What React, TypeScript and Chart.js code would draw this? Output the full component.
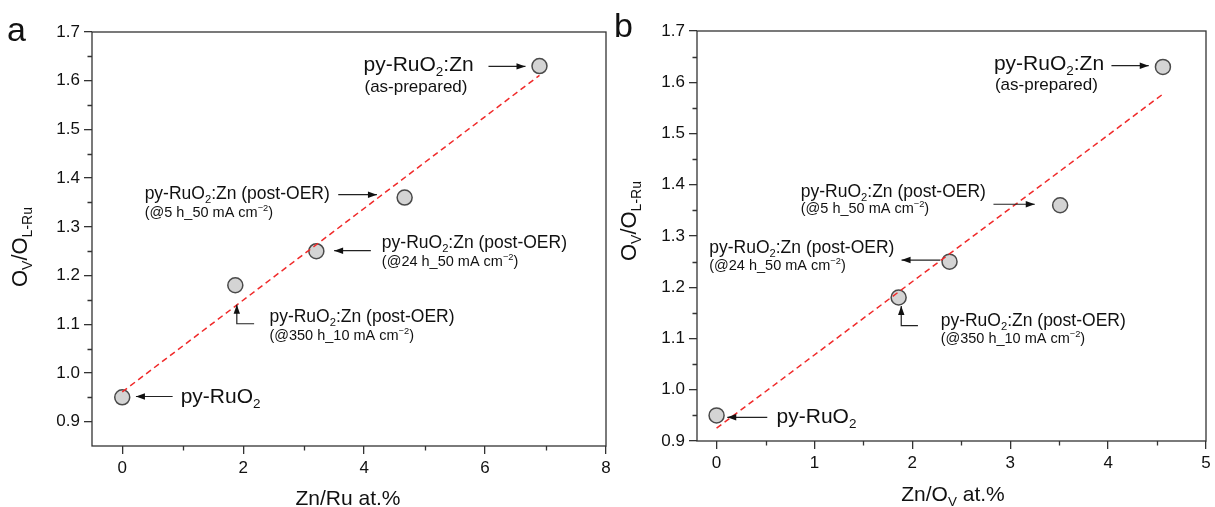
import React, { useEffect, useRef } from 'react';
import { Chart, registerables } from 'chart.js';

Chart.register(...registerables);

// ---------- DATA ----------
// Panel a : Zn/Ru at.%
const xA = [0, 1.87, 3.21, 4.67, 6.9];
const yA = [0.95, 1.18, 1.25, 1.36, 1.63];
const fitXA = [0, 6.9];
const fitYA = [0.961, 1.611];
const xTicksA = [0, 2, 4, 6, 8];
const xMinorA = [1, 3, 5, 7];

// Panel b : Zn/O_V at.%
const xB = [0, 1.86, 2.38, 3.51, 4.56];
const yB = [0.95, 1.18, 1.25, 1.36, 1.63];
const fitXB = [0, 4.56];
const fitYB = [0.925, 1.577];
const xTicksB = [0, 1, 2, 3, 4, 5];
const xMinorB = [0.5, 1.5, 2.5, 3.5, 4.5];

const yTicksAll = [0.9, 1.0, 1.1, 1.2, 1.3, 1.4, 1.5, 1.6, 1.7];
const yMinorAll = [0.95, 1.05, 1.15, 1.25, 1.35, 1.45, 1.55, 1.65];

// ---------- TEXT ----------
type Seg = { t: string; s?: 'sub' | 'sup' };
const FONT = '"Liberation Sans", Arial, Helvetica, sans-serif';
const TXT = '#111';

const sampleBig: Seg[] = [{ t: 'py-RuO' }, { t: '2', s: 'sub' }, { t: ':Zn' }];
const sampleBare: Seg[] = [{ t: 'py-RuO' }, { t: '2', s: 'sub' }];
const postOER: Seg[] = [{ t: 'py-RuO' }, { t: '2', s: 'sub' }, { t: ':Zn (post-OER)' }];
const asPrep: Seg[] = [{ t: '(as-prepared)' }];
const cond = (c: string): Seg[] => [{ t: `(@${c} mA cm` }, { t: '\u22122', s: 'sup' }, { t: ')' }];
const yTitleSegs: Seg[] = [{ t: 'O' }, { t: 'V', s: 'sub' }, { t: '/O' }, { t: 'L-Ru', s: 'sub' }];
const xTitleA: Seg[] = [{ t: 'Zn/Ru at.%' }];
const xTitleB: Seg[] = [{ t: 'Zn/O' }, { t: 'V', s: 'sub' }, { t: ' at.%' }];

// ---------- helpers ----------
function segFont(size: number, s?: string) {
  return `${s ? size * 0.64 : size}px ${FONT}`;
}
function richWidth(ctx: CanvasRenderingContext2D, segs: Seg[], size: number) {
  let w = 0;
  for (const sg of segs) {
    ctx.font = segFont(size, sg.s);
    w += ctx.measureText(sg.t).width;
  }
  return w;
}
function drawRich(ctx: CanvasRenderingContext2D, x: number, y: number, segs: Seg[], size: number) {
  ctx.textBaseline = 'alphabetic';
  ctx.textAlign = 'left';
  for (const sg of segs) {
    ctx.font = segFont(size, sg.s);
    const dy = sg.s === 'sub' ? size * 0.22 : sg.s === 'sup' ? -size * 0.42 : 0;
    ctx.fillText(sg.t, x, y + dy);
    x += ctx.measureText(sg.t).width;
  }
}
function drawArrow(ctx: CanvasRenderingContext2D, pts: number[][]) {
  ctx.beginPath();
  ctx.moveTo(pts[0][0], pts[0][1]);
  for (let i = 1; i < pts.length; i++) ctx.lineTo(pts[i][0], pts[i][1]);
  ctx.stroke();
  const [hx, hy] = pts[pts.length - 1];
  const [px, py] = pts[pts.length - 2];
  const ang = Math.atan2(hy - py, hx - px);
  const L = 9, W = 3.2;
  ctx.beginPath();
  ctx.moveTo(hx, hy);
  ctx.lineTo(hx - L * Math.cos(ang) + W * Math.sin(ang), hy - L * Math.sin(ang) - W * Math.cos(ang));
  ctx.lineTo(hx - L * Math.cos(ang) - W * Math.sin(ang), hy - L * Math.sin(ang) + W * Math.cos(ang));
  ctx.closePath();
  ctx.fill();
}

type Note = { i: number; lines: { segs: Seg[]; size: number; dx: number; dy: number }[]; arrow: number[][] };

const notesA: Note[] = [
  { i: 4, lines: [{ segs: sampleBig, size: 21, dx: -176, dy: 5.3 }, { segs: asPrep, size: 17, dx: -175, dy: 26.3 }], arrow: [[-51, 0.3], [-14, 0.3]] },
  { i: 3, lines: [{ segs: postOER, size: 17.5, dx: -260, dy: 1.4 }, { segs: cond('5 h_50'), size: 14.5, dx: -260, dy: 19.1 }], arrow: [[-66.4, -2.9], [-27.7, -2.9]] },
  { i: 2, lines: [{ segs: postOER, size: 17.5, dx: 65.5, dy: -3.2 }, { segs: cond('24 h_50'), size: 14.5, dx: 65.5, dy: 15.2 }], arrow: [[54.5, -0.5], [17.8, -0.5]] },
  { i: 1, lines: [{ segs: postOER, size: 17.5, dx: 34.1, dy: 37.2 }, { segs: cond('350 h_10'), size: 14.5, dx: 34.1, dy: 55.2 }], arrow: [[18.8, 38.5], [1.5, 38.5], [1.5, 19.5]] },
  { i: 0, lines: [{ segs: sampleBare, size: 21, dx: 58.4, dy: 5.8 }], arrow: [[50.4, -0.8], [13.7, -0.8]] },
];
const notesB: Note[] = [
  { i: 4, lines: [{ segs: sampleBig, size: 21, dx: -169, dy: 3.1 }, { segs: asPrep, size: 17, dx: -168, dy: 23 }], arrow: [[-51.5, -1.2], [-14.2, -1.2]] },
  { i: 3, lines: [{ segs: postOER, size: 17.5, dx: -259.4, dy: -8.6 }, { segs: cond('5 h_50'), size: 14.5, dx: -259.4, dy: 8 }], arrow: [[-66.7, -1], [-25.4, -1]] },
  { i: 2, lines: [{ segs: postOER, size: 17.5, dx: -240.3, dy: -8.3 }, { segs: cond('24 h_50'), size: 14.5, dx: -240.3, dy: 8.4 }], arrow: [[-9.3, -1.6], [-48, -1.6]] },
  { i: 1, lines: [{ segs: postOER, size: 17.5, dx: 42, dy: 28.5 }, { segs: cond('350 h_10'), size: 14.5, dx: 42, dy: 45.8 }], arrow: [[19.3, 28.2], [2.6, 28.2], [2.6, 8.5]] },
  { i: 0, lines: [{ segs: sampleBare, size: 21, dx: 60, dy: 7.9 }], arrow: [[50.7, 1.9], [10.7, 1.9]] },
];

type Panel = {
  xs: number[]; ys: number[]; fx: number[]; fy: number[];
  xTicks: number[]; xMinor: number[];
  xMin: number; xMax: number; yMin: number; yMax: number;
  pad: { top: number; right: number }; yWidth: number; xHeight: number;
  letter: { t: string; x: number; y: number };
  yTitle: { cx: number; cy: number };
  xTitle: { segs: Seg[]; cx: number; y: number };
  notes: Note[];
};

const panelA: Panel = {
  xs: xA, ys: yA, fx: fitXA, fy: fitYA, xTicks: xTicksA, xMinor: xMinorA,
  xMin: -0.5, xMax: 8, yMin: 0.85, yMax: 1.7,
  pad: { top: 32, right: 609 }, yWidth: 92, xHeight: 61,
  letter: { t: 'a', x: 7, y: 41 },
  yTitle: { cx: 19, cy: 247 },
  xTitle: { segs: xTitleA, cx: 348, y: 505 },
  notes: notesA,
};
const panelB: Panel = {
  xs: xB, ys: yB, fx: fitXB, fy: fitYB, xTicks: xTicksB, xMinor: xMinorB,
  xMin: -0.2, xMax: 5, yMin: 0.9, yMax: 1.7,
  pad: { top: 31, right: 5 }, yWidth: 697, xHeight: 66,
  letter: { t: 'b', x: 614, y: 37 },
  yTitle: { cx: 628, cy: 221 },
  xTitle: { segs: xTitleB, cx: 953, y: 501 },
  notes: notesB,
};

function makeConfig(p: Panel): any {
  const decor = {
    id: 'decor',
    afterDraw(chart: any) {
      const ctx: CanvasRenderingContext2D = chart.ctx;
      const ca = chart.chartArea;
      const xs = chart.scales.x, ys = chart.scales.y;
      ctx.save();
      // frame
      ctx.strokeStyle = '#333';
      ctx.lineWidth = 1.3;
      ctx.strokeRect(ca.left, ca.top, ca.right - ca.left, ca.bottom - ca.top);
      // minor ticks
      ctx.beginPath();
      for (const v of p.xMinor) {
        const px = Math.round(xs.getPixelForValue(v)) + 0.5;
        ctx.moveTo(px, ca.bottom); ctx.lineTo(px, ca.bottom + 4.5);
      }
      for (const v of yMinorAll) {
        if (v < p.yMin || v > p.yMax) continue;
        const py = Math.round(ys.getPixelForValue(v)) + 0.5;
        ctx.moveTo(ca.left - 4.5, py); ctx.lineTo(ca.left, py);
      }
      ctx.stroke();
      // annotations
      ctx.fillStyle = TXT;
      ctx.strokeStyle = '#222';
      ctx.lineWidth = 1.2;
      for (const n of p.notes) {
        const bx = xs.getPixelForValue(p.xs[n.i]);
        const by = ys.getPixelForValue(p.ys[n.i]);
        for (const l of n.lines) drawRich(ctx, bx + l.dx, by + l.dy, l.segs, l.size);
        drawArrow(ctx, n.arrow.map(([dx, dy]) => [bx + dx, by + dy]));
      }
      // x title
      const xsize = 21;
      const w = richWidth(ctx, p.xTitle.segs, xsize);
      drawRich(ctx, p.xTitle.cx - w / 2, p.xTitle.y, p.xTitle.segs, xsize);
      // y title (rotated)
      const ysize = 22;
      ctx.save();
      ctx.translate(p.yTitle.cx, p.yTitle.cy);
      ctx.rotate(-Math.PI / 2);
      const wy = richWidth(ctx, yTitleSegs, ysize);
      drawRich(ctx, -wy / 2, ysize * 0.36, yTitleSegs, ysize);
      ctx.restore();
      // panel letter
      ctx.font = `34px ${FONT}`;
      ctx.textAlign = 'left';
      ctx.textBaseline = 'alphabetic';
      ctx.fillStyle = '#111';
      ctx.fillText(p.letter.t, p.letter.x, p.letter.y);
      ctx.restore();
    },
  };

  return {
    type: 'scatter',
    data: {
      datasets: [
        {
          type: 'line',
          data: p.fx.map((x, i) => ({ x, y: p.fy[i] })),
          borderColor: '#f02a2a',
          borderWidth: 1.5,
          borderDash: [6, 4],
          pointRadius: 0,
          fill: false,
          order: 0,
        },
        {
          type: 'scatter',
          data: p.xs.map((x, i) => ({ x, y: p.ys[i] })),
          pointRadius: 7.5,
          pointBackgroundColor: '#d4d4d4',
          pointBorderColor: '#4a4a4a',
          pointBorderWidth: 1.5,
          order: 1,
        },
      ],
    },
    options: {
      responsive: false,
      animation: false,
      devicePixelRatio: 1,
      events: [],
      layout: { padding: { left: 0, top: p.pad.top, right: p.pad.right, bottom: 0 } },
      plugins: { legend: { display: false }, tooltip: { enabled: false }, title: { display: false } },
      scales: {
        x: {
          type: 'linear',
          min: p.xMin,
          max: p.xMax,
          afterBuildTicks: (s: any) => { s.ticks = p.xTicks.map((v) => ({ value: v })); },
          afterFit: (s: any) => { s.height = p.xHeight; },
          grid: { drawOnChartArea: false, drawTicks: true, tickLength: 8, color: '#333', lineWidth: 1.3 },
          border: { display: false },
          ticks: { font: { size: 17, family: FONT }, color: TXT, padding: 4, maxRotation: 0, autoSkip: false, callback: (v: any) => String(v) },
        },
        y: {
          type: 'linear',
          min: p.yMin,
          max: p.yMax,
          afterBuildTicks: (s: any) => { s.ticks = yTicksAll.map((v) => ({ value: v })); },
          afterFit: (s: any) => { s.width = p.yWidth; },
          grid: { drawOnChartArea: false, drawTicks: true, tickLength: 8, color: '#333', lineWidth: 1.3 },
          border: { display: false },
          ticks: { font: { size: 17, family: FONT }, color: TXT, padding: 4, autoSkip: false, callback: (v: any) => Number(v).toFixed(1) },
        },
      },
    },
    plugins: [decor],
  };
}

export default function App() {
  const refA = useRef<HTMLCanvasElement>(null);
  const refB = useRef<HTMLCanvasElement>(null);
  useEffect(() => {
    Chart.defaults.font.family = FONT;
    const a = new Chart(refA.current as HTMLCanvasElement, makeConfig(panelA));
    const b = new Chart(refB.current as HTMLCanvasElement, makeConfig(panelB));
    return () => { a.destroy(); b.destroy(); };
  }, []);
  const cs: React.CSSProperties = { position: 'absolute', left: 0, top: 0, width: 1215, height: 507 };
  return (
    <div style={{ position: 'absolute', left: 0, top: 0, width: 1215, height: 507, background: '#fff' }}>
      <canvas ref={refA} width={1215} height={507} style={cs} />
      <canvas ref={refB} width={1215} height={507} style={cs} />
    </div>
  );
}
